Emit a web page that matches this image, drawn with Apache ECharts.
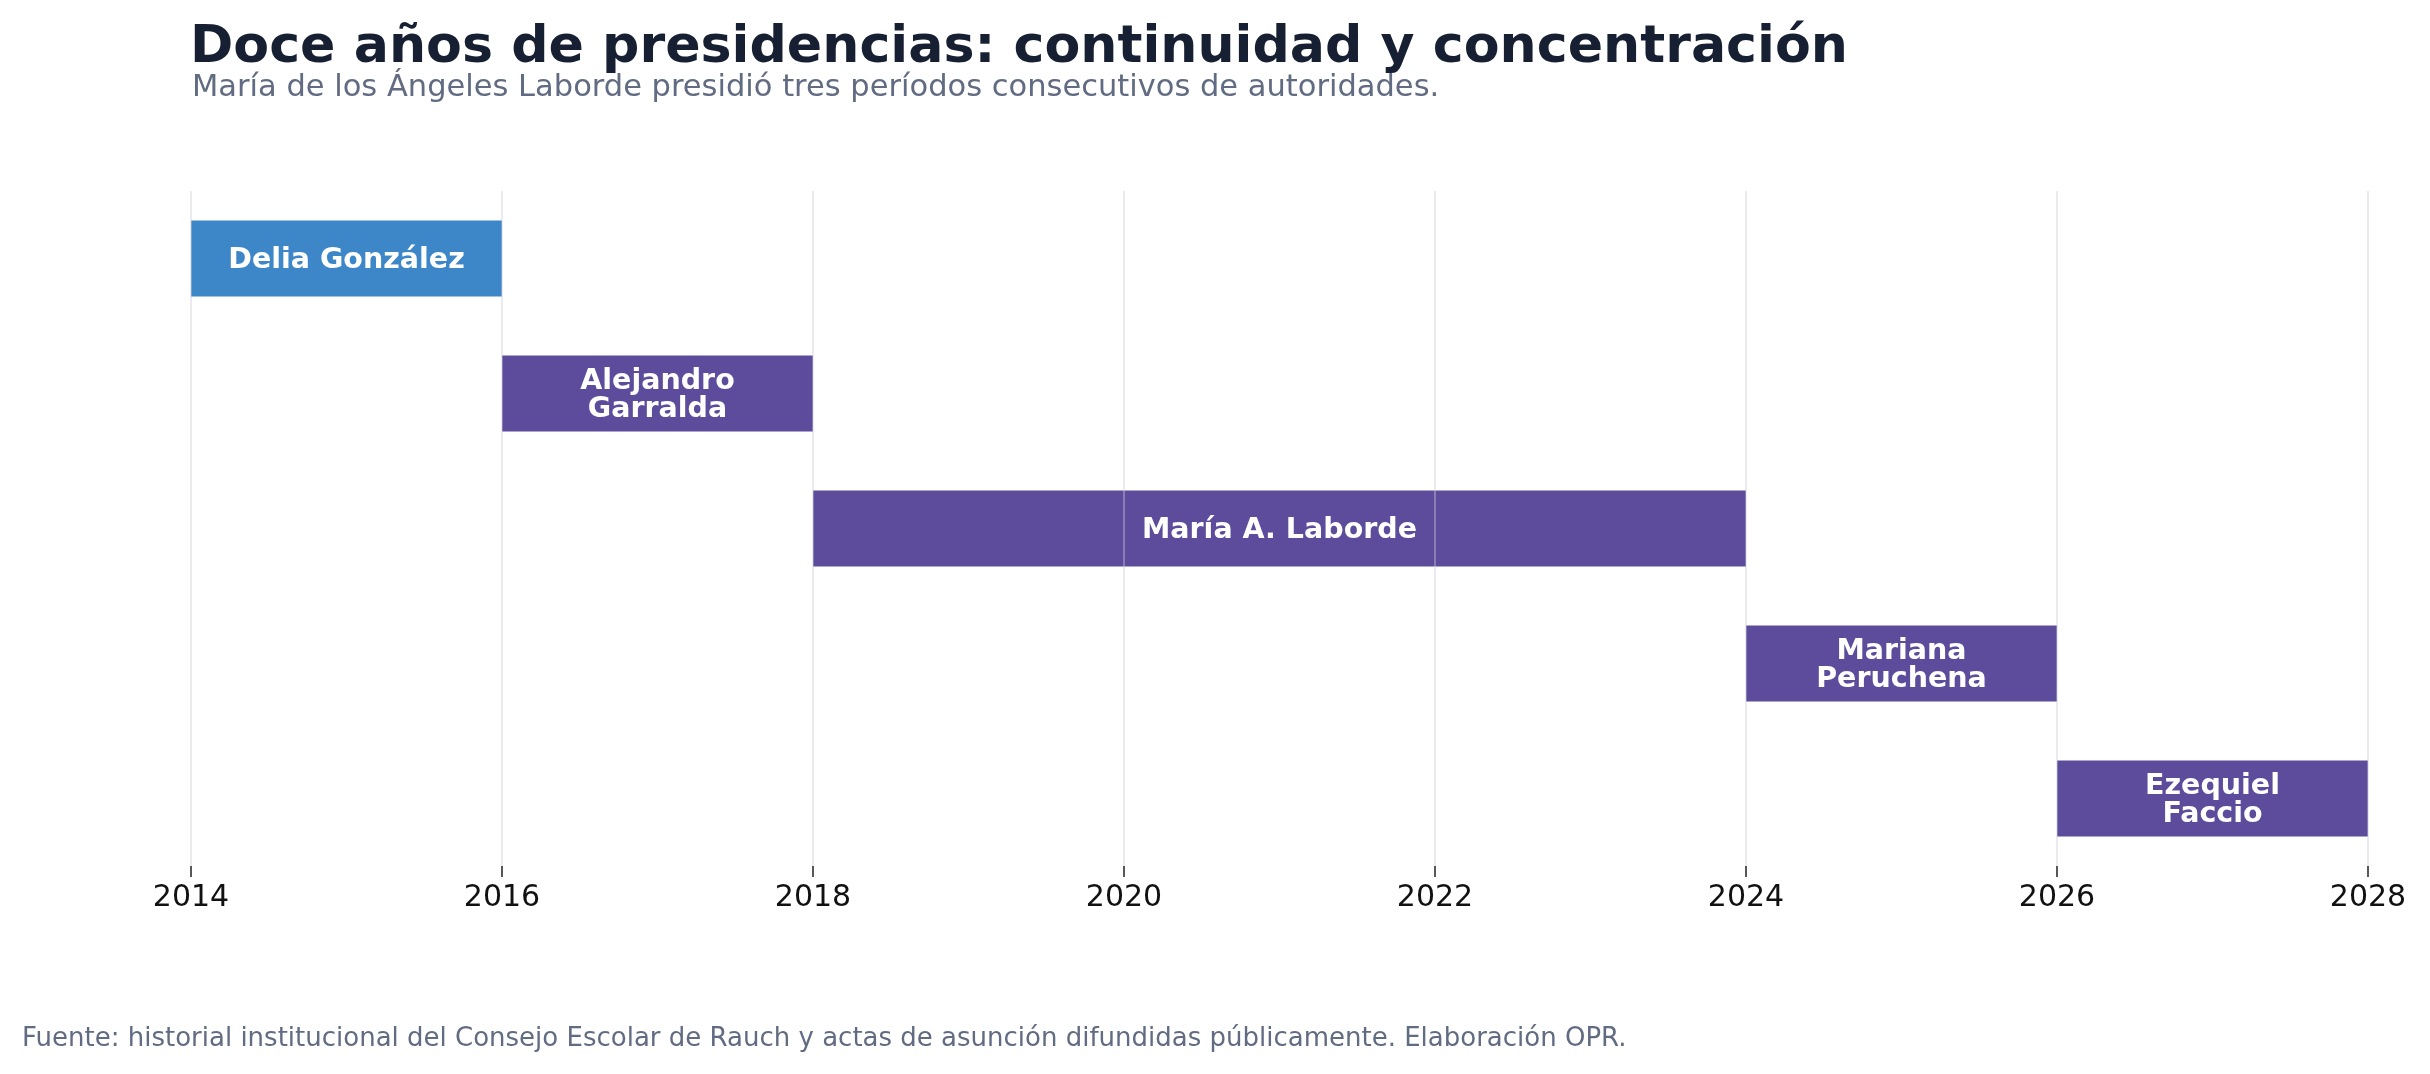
<!DOCTYPE html>
<html>
<head>
<meta charset="utf-8">
<script src="https://cdn.jsdelivr.net/npm/echarts@6/dist/echarts.min.js"></script>
<style>
  html, body { margin: 0; padding: 0; background: #fff; }
  #chart { width: 2430px; height: 1074px; }
</style>
</head>
<body>
<div id="chart"></div>
<script>
// presidencias del Consejo Escolar (de arriba hacia abajo)
const nombres = ['Delia González', 'Alejandro\nGarralda', 'María A. Laborde', 'Mariana\nPeruchena', 'Ezequiel\nFaccio'];
const inicio = [2014, 2016, 2018, 2024, 2026];
const fin = [2016, 2018, 2024, 2026, 2028];
const anios = [2014, 2016, 2018, 2020, 2022, 2024, 2026, 2028];

const duracion = fin.map((f, i) => f - inicio[i]);
const FONT = 'DejaVu Sans';
const azul = '#3d87c9'; // primera presidencia
const violeta = '#5c4c9b';

const chart = echarts.init(document.getElementById('chart'));
const option = {
  backgroundColor: '#ffffff',
  animation: false,
  title: [
    {
      text: 'Doce años de presidencias: continuidad y concentración',
      left: 185,
      top: 17,
      textStyle: { fontFamily: FONT, fontSize: 52.2, fontWeight: 'bold', color: '#172033' },
    },
    {
      text: 'María de los Ángeles Laborde presidió tres períodos consecutivos de autoridades.',
      left: 187,
      top: 68,
      textStyle: { fontFamily: FONT, fontSize: 30.5, fontWeight: 'normal', color: '#616b82' },
    },
    {
      text: 'Fuente: historial institucional del Consejo Escolar de Rauch y actas de asunción difundidas públicamente. Elaboración OPR.',
      left: 17,
      top: 1021,
      textStyle: { fontFamily: FONT, fontSize: 26, fontWeight: 'normal', color: '#616b82' },
    },
  ],
  grid: { left: 191, right: 62, top: 191, bottom: 208, containLabel: false },
  xAxis: {
    type: 'value',
    min: anios[0],
    max: anios[anios.length - 1],
    interval: 2,
    z: 5,
    axisLine: { show: false },
    axisTick: { show: true, length: 11, lineStyle: { color: '#222', width: 1.5 } },
    axisLabel: {
      fontFamily: FONT,
      fontSize: 30,
      color: '#111',
      margin: 17,
      formatter: (v) => (anios.includes(v) ? String(v) : ''),
    },
    splitLine: { show: true, lineStyle: { color: 'rgba(205,205,215,0.4)', width: 2 } },
  },
  yAxis: {
    type: 'category',
    data: nombres,
    inverse: true,
    axisLine: { show: false },
    axisTick: { show: false },
    axisLabel: { show: false },
    splitLine: { show: false },
  },
  series: [
    {
      name: 'base',
      type: 'bar',
      stack: 'periodo',
      silent: true,
      barWidth: 76,
      itemStyle: { color: 'transparent' },
      data: inicio,
    },
    {
      name: 'periodo',
      type: 'bar',
      stack: 'periodo',
      barWidth: 76,
      itemStyle: { color: (p) => (p.dataIndex === 0 ? azul : violeta) },
      label: {
        show: true,
        position: 'inside',
        offset: [0, 2],
        formatter: (p) => nombres[p.dataIndex],
        fontFamily: FONT,
        fontSize: 28.5,
        fontWeight: 'bold',
        lineHeight: 28,
        color: '#ffffff',
        align: 'center',
      },
      data: duracion,
    },
  ],
};
chart.setOption(option);
</script>
</body>
</html>
